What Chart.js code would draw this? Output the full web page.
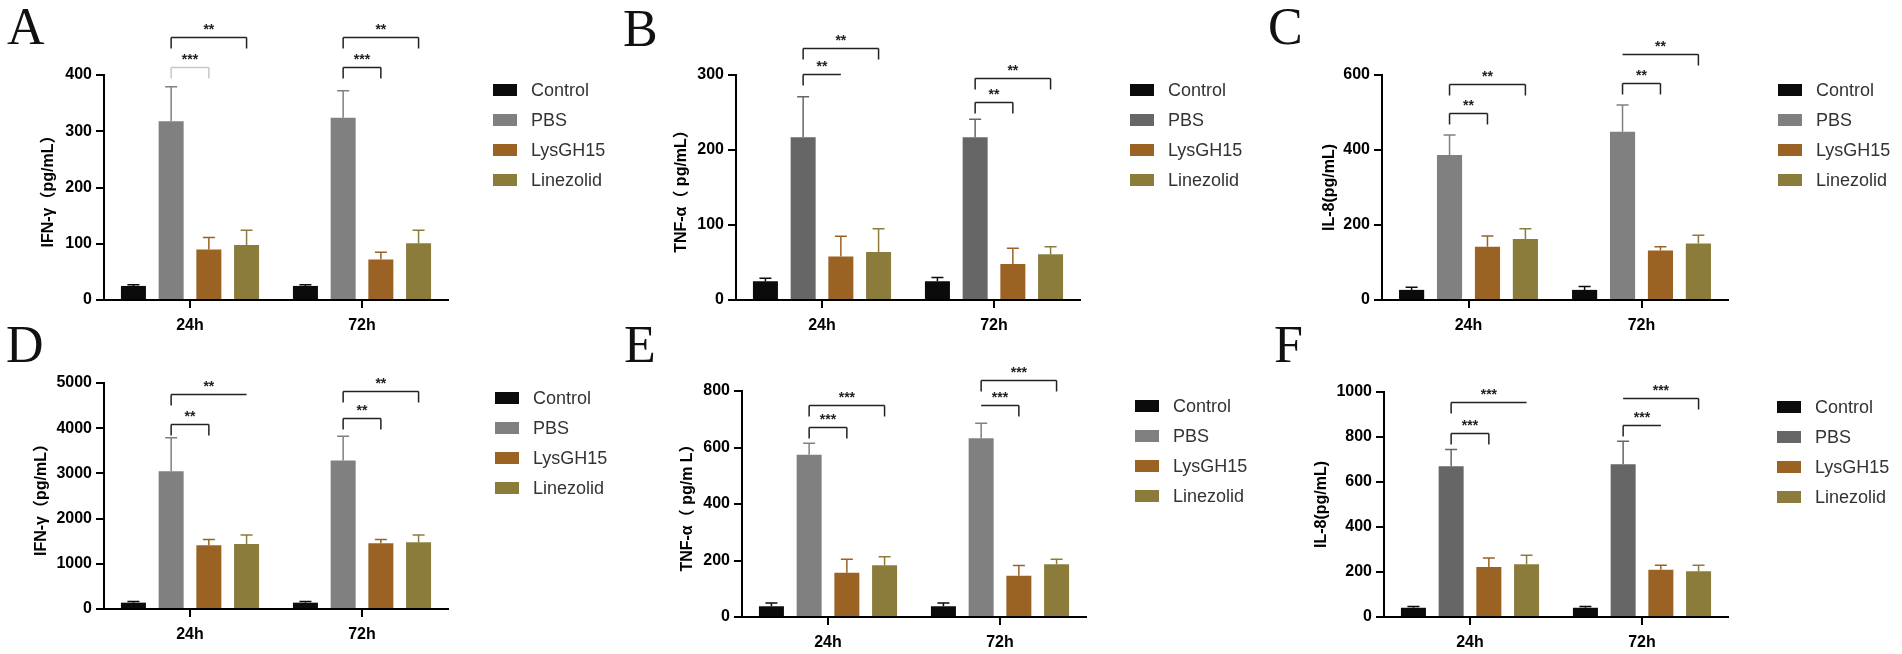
<!DOCTYPE html>
<html>
<head>
<meta charset="utf-8">
<script src="https://cdn.jsdelivr.net/npm/chart.js@4.4.0/dist/chart.umd.min.js"></script>
<style>
  body { margin: 0; background: #fff; width: 1902px; height: 654px; position: relative; overflow: hidden; }
  canvas { position: absolute; }
  .tag { position: absolute; font-family: "Liberation Serif", "Times New Roman", serif; font-size: 52px; line-height: 52px; color: #111; }
</style>
</head>
<body>
<script>
const timePoints = ["24h", "72h"];
const groups = ["Control", "PBS", "LysGH15", "Linezolid"];

// mean values, one row per group: [24h, 72h]
const ifnA = [[25, 25], [318, 324], [90, 72], [98, 101]];
const ifnAsd = [[2, 2], [61, 48], [21, 13], [26, 23]];
const tnfB = [[25, 25], [217, 217], [58, 48], [64, 61]];
const tnfBsd = [[4, 5], [54, 24], [27, 21], [31, 10]];
const il8C = [[27, 27], [387, 449], [142, 132], [163, 151]];
const il8Csd = [[7, 9], [53, 71], [29, 10], [27, 22]];
const ifnD = [[140, 140], [3048, 3284], [1410, 1454], [1439, 1476]];
const ifnDsd = [[25, 25], [738, 539], [125, 81], [199, 162]];
const tnfE = [[38, 38], [574, 633], [157, 146], [183, 187]];
const tnfEsd = [[12, 12], [41, 53], [47, 36], [30, 17]];
const il8F = [[41, 41], [670, 679], [222, 210], [234, 203]];
const il8Fsd = [[6, 6], [75, 102], [40, 20], [40, 27]];

const ticksA = [0, 100, 200, 300, 400];
const ticksB = [0, 100, 200, 300];
const ticksC = [0, 200, 400, 600];
const ticksD = [0, 1000, 2000, 3000, 4000, 5000];
const ticksE = [0, 200, 400, 600, 800];
const ticksF = [0, 200, 400, 600, 800, 1000];

const lightGrey = ["#0b0b0b", "#808080", "#9a6324", "#8b7c3c"];
const darkGrey = ["#0b0b0b", "#666666", "#9a6324", "#8b7c3c"];

const FONT = '"Liberation Sans", Arial, "Noto Sans CJK SC", sans-serif';

// significance brackets: time index, group from/to, height in data units
const panels = [
  { tag: "A", tagPos: [7, 1], box: [0, 0, 630, 345], pad: [0, 75, 182, 0], yW: 104, xH: 45, titlePad: 39, legendX: 45,
    title: "IFN-γ（pg/mL）", means: ifnA, sd: ifnAsd, ticks: ticksA, colors: lightGrey,
    brackets: [
      { t: 0, from: 1, to: 3, at: 468, text: "**", ticks: "both" },
      { t: 0, from: 1, to: 2, at: 414, text: "***", ticks: "both", faint: true },
      { t: 1, from: 1, to: 3, at: 468, text: "**", ticks: "both" },
      { t: 1, from: 1, to: 2, at: 414, text: "***", ticks: "both" }
    ] },
  { tag: "B", tagPos: [623, 3], box: [630, 0, 640, 345], pad: [0, 75, 190, 0], yW: 106, xH: 45, titlePad: 42, legendX: 50,
    title: "TNF-α（ pg/mL）", means: tnfB, sd: tnfBsd, ticks: ticksB, colors: darkGrey,
    brackets: [
      { t: 0, from: 1, to: 3, at: 336, text: "**", ticks: "both" },
      { t: 0, from: 1, to: 2, at: 301, text: "**", ticks: "left" },
      { t: 1, from: 1, to: 3, at: 296, text: "**", ticks: "both" },
      { t: 1, from: 1, to: 2, at: 264, text: "**", ticks: "both" }
    ] },
  { tag: "C", tagPos: [1268, 1], box: [1270, 0, 632, 345], pad: [0, 75, 174, 0], yW: 112, xH: 45, titlePad: 50, legendX: 50,
    title: "IL-8(pg/mL)", means: il8C, sd: il8Csd, ticks: ticksC, colors: lightGrey,
    brackets: [
      { t: 0, from: 1, to: 3, at: 576, text: "**", ticks: "both" },
      { t: 0, from: 1, to: 2, at: 499, text: "**", ticks: "both" },
      { t: 1, from: 1, to: 3, at: 656, text: "**", ticks: "right" },
      { t: 1, from: 1, to: 2, at: 579, text: "**", ticks: "both" }
    ] },
  { tag: "D", tagPos: [6, 319], box: [0, 327, 630, 327], pad: [0, 56, 182, 0], yW: 104, xH: 45, titlePad: 32, legendX: 47,
    title: "IFN-γ（pg/mL）", means: ifnD, sd: ifnDsd, ticks: ticksD, colors: lightGrey,
    brackets: [
      { t: 0, from: 1, to: 3, at: 4757, text: "**", ticks: "left" },
      { t: 0, from: 1, to: 2, at: 4093, text: "**", ticks: "both" },
      { t: 1, from: 1, to: 3, at: 4823, text: "**", ticks: "both" },
      { t: 1, from: 1, to: 2, at: 4226, text: "**", ticks: "both" }
    ] },
  { tag: "E", tagPos: [624, 319], box: [630, 327, 640, 327], pad: [0, 64, 184, 0], yW: 112, xH: 37, titlePad: 48, legendX: 49,
    title: "TNF-α（ pg/m L）", means: tnfE, sd: tnfEsd, ticks: ticksE, colors: lightGrey,
    brackets: [
      { t: 0, from: 1, to: 3, at: 749, text: "***", ticks: "both" },
      { t: 0, from: 1, to: 2, at: 671, text: "***", ticks: "both" },
      { t: 1, from: 1, to: 3, at: 838, text: "***", ticks: "both" },
      { t: 1, from: 1, to: 2, at: 749, text: "***", ticks: "right" }
    ] },
  { tag: "F", tagPos: [1274, 319], box: [1270, 327, 632, 327], pad: [0, 65, 174, 0], yW: 114, xH: 37, titlePad: 42, legendX: 49,
    title: "IL-8(pg/mL)", means: il8F, sd: il8Fsd, ticks: ticksF, colors: darkGrey,
    brackets: [
      { t: 0, from: 1, to: 3, at: 956, text: "***", ticks: "left" },
      { t: 0, from: 1, to: 2, at: 818, text: "***", ticks: "both" },
      { t: 1, from: 1, to: 3, at: 973, text: "***", ticks: "right" },
      { t: 1, from: 1, to: 2, at: 853, text: "***", ticks: "left" }
    ] }
];

// error bars, significance brackets and the legend
const extras = {
  id: "extras",
  afterDatasetsDraw(chart, args, opts) {
    const { ctx, chartArea } = chart;
    const y = chart.scales.y;
    ctx.save();

    chart.data.datasets.forEach((ds, di) => {
      chart.getDatasetMeta(di).data.forEach((bar, i) => {
        const top = y.getPixelForValue(ds.data[i] + ds.sd[i]);
        ctx.strokeStyle = ds.backgroundColor;
        ctx.lineWidth = 1.5;
        ctx.beginPath();
        ctx.moveTo(bar.x, bar.y);
        ctx.lineTo(bar.x, top);
        ctx.moveTo(bar.x - 6, top);
        ctx.lineTo(bar.x + 6, top);
        ctx.stroke();
      });
    });

    opts.brackets.forEach((b) => {
      const x1 = chart.getDatasetMeta(b.from).data[b.t].x;
      const x2 = chart.getDatasetMeta(b.to).data[b.t].x;
      const py = Math.round(y.getPixelForValue(b.at)) + 0.5;
      ctx.strokeStyle = b.faint ? "#c8c8c8" : "#222";
      ctx.lineWidth = 1.5;
      ctx.beginPath();
      ctx.moveTo(x1, py);
      ctx.lineTo(x2, py);
      if (b.ticks === "both" || b.ticks === "left") {
        ctx.moveTo(x1, py);
        ctx.lineTo(x1, py + 11);
      }
      if (b.ticks === "both" || b.ticks === "right") {
        ctx.moveTo(x2, py);
        ctx.lineTo(x2, py + 11);
      }
      ctx.stroke();
      ctx.fillStyle = "#222";
      ctx.font = "bold 14px " + FONT;
      ctx.textAlign = "center";
      ctx.textBaseline = "alphabetic";
      ctx.fillText(b.text, (x1 + x2) / 2, py - 4);
    });

    const lx = chartArea.right + opts.legendX;
    chart.data.datasets.forEach((ds, di) => {
      const ly = chartArea.top + 15 + di * 30;
      ctx.fillStyle = ds.backgroundColor;
      ctx.fillRect(lx, ly - 6, 24, 12);
      ctx.fillStyle = "#333";
      ctx.font = "18px " + FONT;
      ctx.textAlign = "left";
      ctx.textBaseline = "middle";
      ctx.fillText(ds.label, lx + 38, ly + 1);
    });
    ctx.restore();
  }
};

panels.forEach((p) => {
  const tag = document.createElement("div");
  tag.className = "tag";
  tag.textContent = p.tag;
  tag.style.left = p.tagPos[0] + "px";
  tag.style.top = p.tagPos[1] + "px";
  document.body.appendChild(tag);

  const canvas = document.createElement("canvas");
  canvas.width = p.box[2];
  canvas.height = p.box[3];
  canvas.style.left = p.box[0] + "px";
  canvas.style.top = p.box[1] + "px";
  canvas.style.width = p.box[2] + "px";
  canvas.style.height = p.box[3] + "px";
  document.body.appendChild(canvas);

  new Chart(canvas.getContext("2d"), {
    type: "bar",
    data: {
      labels: timePoints,
      datasets: groups.map((g, gi) => ({
        label: g,
        data: p.means[gi],
        sd: p.sd[gi],
        backgroundColor: p.colors[gi],
        borderWidth: 0,
        categoryPercentage: 0.877,
        barPercentage: 0.663
      }))
    },
    options: {
      responsive: false,
      animation: false,
      devicePixelRatio: 1,
      layout: { padding: { left: p.pad[0], top: p.pad[1], right: p.pad[2], bottom: p.pad[3] } },
      plugins: {
        legend: { display: false },
        tooltip: { enabled: false },
        extras: { brackets: p.brackets, legendX: p.legendX }
      },
      scales: {
        x: {
          offset: true,
          grid: { offset: false, drawOnChartArea: false, drawTicks: true, tickLength: 8, color: "#000", lineWidth: 2 },
          border: { display: true, color: "#000", width: 2 },
          ticks: { color: "#000", padding: 8, font: { family: FONT, size: 16, weight: "bold" } },
          afterFit: (s) => { s.height = p.xH; }
        },
        y: {
          min: 0,
          max: p.ticks[p.ticks.length - 1],
          afterBuildTicks: (s) => { s.ticks = p.ticks.map((v) => ({ value: v })); },
          grid: { drawOnChartArea: false, drawTicks: true, tickLength: 8, color: "#000", lineWidth: 2 },
          border: { display: true, color: "#000", width: 2 },
          ticks: { color: "#000", padding: 4, callback: (v) => String(v), font: { family: FONT, size: 16, weight: "bold" } },
          title: {
            display: true,
            text: p.title,
            color: "#000",
            padding: { top: p.titlePad, bottom: 0 },
            font: { family: FONT, size: 16, weight: "bold" }
          },
          afterFit: (s) => { s.width = p.yW; }
        }
      }
    },
    plugins: [extras]
  });
});
</script>
</body>
</html>
